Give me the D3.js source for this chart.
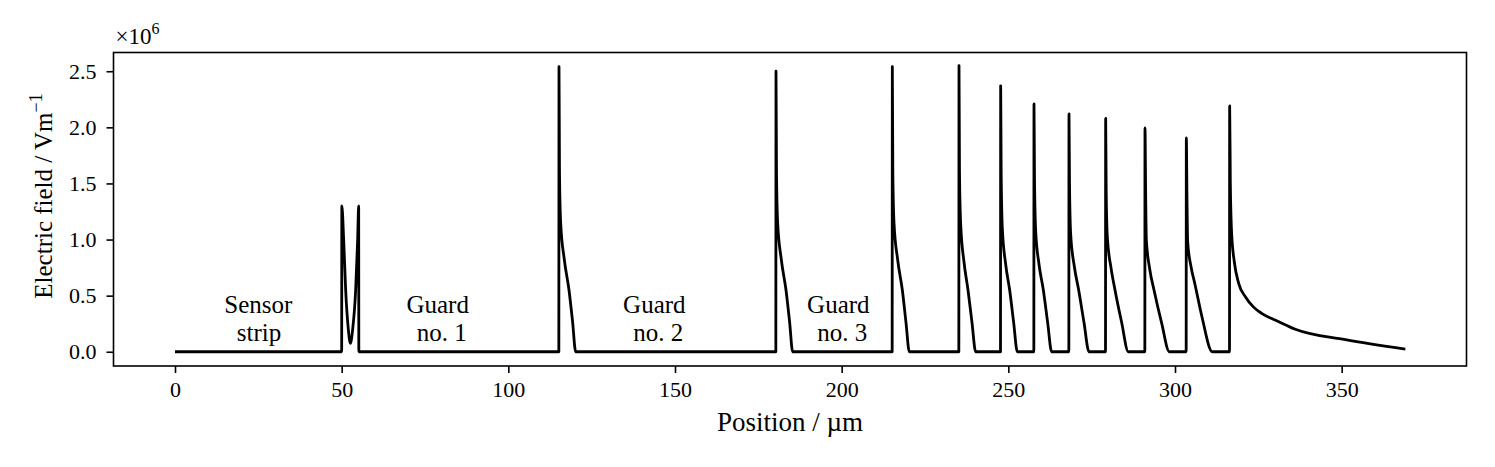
<!DOCTYPE html>
<html>
<head>
<meta charset="utf-8">
<script src="https://cdn.jsdelivr.net/npm/d3@7"></script>
<style>
  body { margin: 0; background: #fff; }
  svg { display: block; font-family: "Liberation Serif", "Times New Roman", serif; }
  .axis path, .axis line { stroke: #000; stroke-width: 1.6px; }
  .axis text { font-size: 22px; fill: #000; }
</style>
</head>
<body>
<svg id="chart"></svg>
<script>
// field profile across the guard-ring structure, y in units of 1e6 V/m

var posX = [
  0, 50.0,
  50.05, 50.6, 51.2, 52.0, 52.6, 53.3, 54.2, 54.8, 55.1, 55.15,
  115.15, 115.2, 115.35, 115.7, 116.8, 118.2, 119.3, 120.2,
  180.25, 180.3, 180.45, 180.8, 181.9, 183.3, 184.4, 185.3,
  215.15, 215.2, 215.35, 215.7, 216.8, 218.2, 219.3, 220.3,
  235.15, 235.2, 235.35, 235.7, 236.7, 237.9, 239.1, 240.2,
  247.65, 247.7, 247.85, 248.2, 249.2, 250.4, 251.6, 252.7,
  257.65, 257.7, 257.85, 258.2, 259.2, 260.5, 261.8, 263.0,
  268.15, 268.2, 268.35, 268.7, 269.8, 271.1, 272.7, 274.2,
  279.15, 279.2, 279.35, 279.7, 280.8, 282.0, 284.0, 286.0,
  290.95, 291.0, 291.2, 291.4, 292.4, 293.7, 296.0, 298.3,
  303.35, 303.4, 303.6, 303.8, 304.8, 306.0, 308.1, 311.2,
  316.35, 316.4, 316.6, 317.0, 317.8, 319.1, 321.1, 323.5, 326.1, 331.0, 336.1, 351.1, 369.1
];

var fieldY = [
  0, 0,
  1.30, 1.00, 0.55, 0.20, 0.075, 0.20, 0.55, 1.00, 1.30, 0,
  0, 2.54, 1.60, 1.15, 0.82, 0.55, 0.26, 0,
  0, 2.50, 1.60, 1.15, 0.82, 0.55, 0.26, 0,
  0, 2.54, 1.60, 1.15, 0.82, 0.55, 0.26, 0,
  0, 2.55, 1.60, 1.14, 0.80, 0.55, 0.26, 0,
  0, 2.37, 1.60, 1.10, 0.78, 0.55, 0.26, 0,
  0, 2.21, 1.55, 1.08, 0.78, 0.55, 0.26, 0,
  0, 2.12, 1.50, 1.05, 0.76, 0.55, 0.26, 0,
  0, 2.08, 1.45, 1.02, 0.75, 0.55, 0.26, 0,
  0, 1.995, 1.40, 1.00, 0.74, 0.55, 0.255, 0,
  0, 1.905, 1.35, 0.98, 0.76, 0.60, 0.31, 0,
  0, 2.19, 1.50, 1.05, 0.80, 0.61, 0.49, 0.40, 0.34, 0.27, 0.20, 0.108, 0.024
];

var xTicks = [0, 50, 100, 150, 200, 250, 300, 350];
var yTicks = [0, 0.5, 1.0, 1.5, 2.0, 2.5];

// region labels: two lines each, centred at x (data units)
var labelLines1 = ["Sensor", "Guard", "Guard", "Guard"];
var labelLines2 = ["strip", "no. 1", "no. 2", "no. 3"];
var labelX1 = [25.0, 78.8, 143.8, 199.0];
var labelX2 = [25.2, 80.0, 145.0, 200.2];

var width = 1495, height = 467;
var margin = { top: 52.5, right: 28.5, bottom: 101, left: 113.5 };

var svg = d3.select('#chart').attr('width', width).attr('height', height);

var x = d3.scaleLinear().domain([-18.45, 387.45]).range([margin.left, width - margin.right]);
var y = d3.scaleLinear().domain([-0.127, 2.667]).range([height - margin.bottom, margin.top]);

var points = posX.map(function (d, i) { return [d, fieldY[i]]; });

var line = d3.line()
  .x(function (d) { return x(d[0]); })
  .y(function (d) { return y(d[1]); })
  .curve(d3.curveMonotoneX);

svg.append('path')
  .datum(points)
  .attr('fill', 'none')
  .attr('stroke', '#000')
  .attr('stroke-width', 2.8)
  .attr('stroke-linejoin', 'round')
  .attr('d', line);

var xAxis = d3.axisBottom(x).tickValues(xTicks).tickSize(7).tickPadding(8).tickFormat(d3.format('d'));
var yAxis = d3.axisLeft(y).tickValues(yTicks).tickSize(7).tickPadding(10).tickFormat(d3.format('.1f'));

svg.append('g')
  .attr('class', 'axis')
  .attr('transform', 'translate(0,' + (height - margin.bottom) + ')')
  .call(xAxis)
  .attr('font-family', null)
  .attr('font-size', null)
  .call(function (g) { g.select('.domain').remove(); });

svg.append('g')
  .attr('class', 'axis')
  .attr('transform', 'translate(' + margin.left + ',0)')
  .call(yAxis)
  .attr('font-family', null)
  .attr('font-size', null)
  .call(function (g) { g.select('.domain').remove(); });

// frame
svg.append('rect')
  .attr('x', margin.left)
  .attr('y', margin.top)
  .attr('width', width - margin.left - margin.right)
  .attr('height', height - margin.top - margin.bottom)
  .attr('fill', 'none')
  .attr('stroke', '#000')
  .attr('stroke-width', 1.6);

// offset text
var off = svg.append('text')
  .attr('x', margin.left + 2)
  .attr('y', 44)
  .style('font-size', '23px');
off.append('tspan').text('×10');
off.append('tspan').attr('dy', -10).style('font-size', '16px').text('6');

// axis labels
svg.append('text')
  .attr('x', (margin.left + width - margin.right) / 2)
  .attr('y', 431)
  .attr('text-anchor', 'middle')
  .style('font-size', '27px')
  .text('Position / µm');

var yl = svg.append('text')
  .attr('transform', 'translate(52,196) rotate(-90)')
  .attr('text-anchor', 'middle')
  .style('font-size', '25px');
yl.append('tspan').text('Electric field / Vm');
yl.append('tspan').attr('dy', -10).style('font-size', '18px').text('−1');

// region annotations
labelLines1.forEach(function (t, i) {
  svg.append('text')
    .attr('x', x(labelX1[i]))
    .attr('y', 313)
    .attr('text-anchor', 'middle')
    .style('font-size', '25px')
    .text(t);
  svg.append('text')
    .attr('x', x(labelX2[i]))
    .attr('y', 341)
    .attr('text-anchor', 'middle')
    .style('font-size', '25px')
    .text(labelLines2[i]);
});
</script>
</body>
</html>
